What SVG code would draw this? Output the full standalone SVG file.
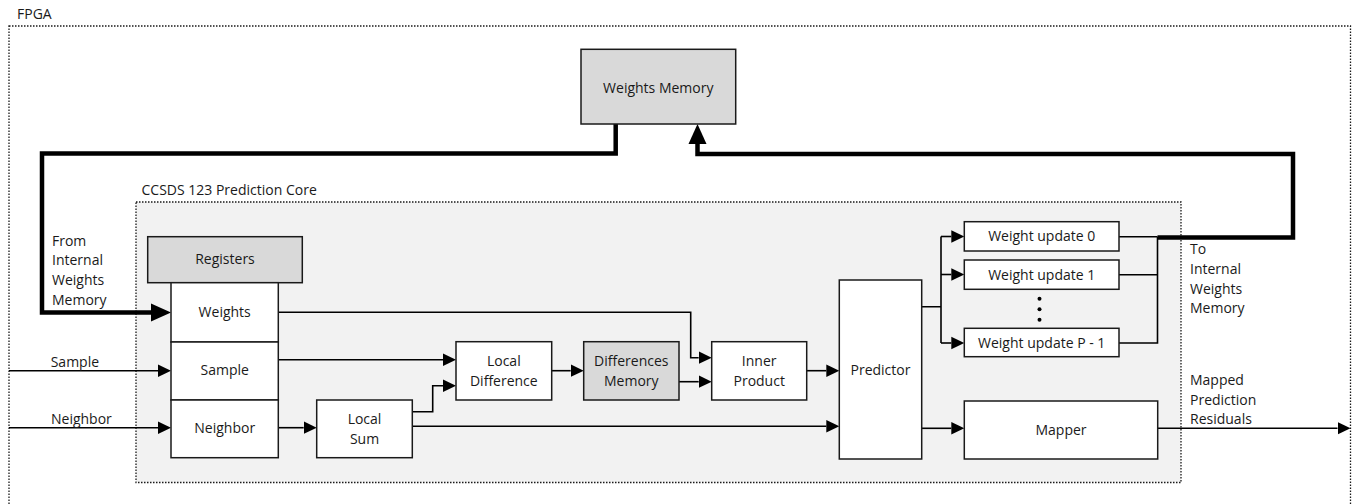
<svg xmlns="http://www.w3.org/2000/svg" width="1353" height="504" viewBox="0 0 1353 504">
  <style>
    text { font-family: "Open Sans", "Liberation Sans", sans-serif; font-size: 14px; fill: #1a1a1a; }
    .c { text-anchor: middle; }
    .frame { fill: none; stroke: #1a1a1a; stroke-width: 1.3; stroke-dasharray: 1.5 1.5; }
    .core { fill: #f2f2f2; stroke: #1a1a1a; stroke-width: 1.3; stroke-dasharray: 1.5 1.5; }
    .box { fill: #ffffff; stroke: #1a1a1a; stroke-width: 1.5; }
    .mem { fill: #d9d9d9; stroke: #1a1a1a; stroke-width: 1.5; }
    .wire { fill: none; stroke: #000; stroke-width: 1.6; }
    .arrow { fill: none; stroke: #000; stroke-width: 1.6; marker-end: url(#head); }
    .bus { fill: none; stroke: #000; stroke-width: 4.5; stroke-linejoin: miter; }
    .busarrow { fill: none; stroke: #000; stroke-width: 4.5; stroke-linejoin: miter; marker-end: url(#bighead); }
  </style>
  <defs>
    <!-- path ends at the base of the head; the head extends past it -->
    <marker id="head" markerUnits="userSpaceOnUse" markerWidth="14" markerHeight="14" refX="0" refY="7" orient="auto">
      <path d="M0,0.7 L13,7 L0,13.3 Z" fill="#000"/>
    </marker>
    <marker id="bighead" markerUnits="userSpaceOnUse" markerWidth="21" markerHeight="19" refX="0" refY="9.5" orient="auto">
      <path d="M0,0.5 L20,9.5 L0,18.5 Z" fill="#000"/>
    </marker>
  </defs>

  <!-- FPGA boundary -->
  <g id="fpga">
    <rect class="frame" x="9" y="26" width="1341.5" height="495"/>
    <text x="17" y="19">FPGA</text>
  </g>

  <!-- Prediction core boundary -->
  <g id="core">
    <rect class="core" x="136" y="202" width="1045" height="280.5"/>
    <text x="141.5" y="195">CCSDS 123 Prediction Core</text>
  </g>

  <!-- connectors -->
  <g id="connectors">
    <!-- weights memory read bus into the register file -->
    <path class="busarrow" d="M615.7,124 V153.5 H42 V312.5 H151"/>
    <!-- weight updates written back to weights memory -->
    <path class="busarrow" d="M1157.5,237.5 H1293 V154 H697.5 V144"/>

    <!-- external inputs -->
    <path class="arrow" d="M9,370.7 H158"/>
    <path class="arrow" d="M9,427.7 H158"/>

    <!-- register outputs -->
    <path class="arrow" d="M278.3,312.3 H690.7 V357.7 H698.7"/>
    <path class="arrow" d="M278.3,359.8 H443"/>
    <path class="arrow" d="M278.3,427.7 H303.7"/>

    <!-- local sum outputs -->
    <path class="arrow" d="M412.3,411.7 H432.7 V385.7 H443"/>
    <path class="arrow" d="M412.3,426.2 H826.3"/>

    <!-- difference path -->
    <path class="arrow" d="M551.7,370.7 H570.7"/>
    <path class="arrow" d="M679,381.7 H698.7"/>
    <path class="arrow" d="M806.7,370.7 H826.3"/>

    <!-- predictor to weight updates -->
    <path class="wire" d="M921.7,306.7 H941 M941,236.5 V343"/>
    <path class="arrow" d="M941,236.5 H951.3"/>
    <path class="arrow" d="M941,274.5 H951.3"/>
    <path class="arrow" d="M941,343 H951.3"/>

    <!-- weight update outputs joined onto the write-back bus -->
    <path class="wire" d="M1119,236.7 H1157.5 M1119,274.7 H1157.5 M1119,343 H1157.5 V236.7"/>

    <!-- predictor to mapper and mapped residuals out -->
    <path class="arrow" d="M921.7,428.3 H951.3"/>
    <path class="arrow" d="M1157.7,428.3 H1337.5"/>
  </g>

  <!-- side labels -->
  <g id="labels">
    <text x="52" y="245.7">From</text>
    <text x="52" y="265.3">Internal</text>
    <text x="52" y="284.9">Weights</text>
    <text x="52" y="304.5">Memory</text>
    <text x="50.7" y="366.5">Sample</text>
    <text x="51" y="424">Neighbor</text>
    <text x="1190" y="254.3">To</text>
    <text x="1190" y="274">Internal</text>
    <text x="1190" y="293.7">Weights</text>
    <text x="1190" y="313.4">Memory</text>
    <text x="1190" y="385">Mapped</text>
    <text x="1190" y="404.5">Prediction</text>
    <text x="1190" y="424">Residuals</text>
  </g>

  <g id="weights-memory">
    <rect class="mem" x="581" y="49.3" width="154.7" height="74.7"/>
    <text class="c" x="658.3" y="92.7">Weights Memory</text>
  </g>

  <g id="registers">
    <rect class="mem" x="147.7" y="236.7" width="154.6" height="46"/>
    <text class="c" x="225" y="264">Registers</text>
  </g>
  <g id="reg-weights">
    <rect class="box" x="171" y="282.7" width="107.3" height="59.3"/>
    <text class="c" x="224.7" y="317">Weights</text>
  </g>
  <g id="reg-sample">
    <rect class="box" x="171" y="342" width="107.3" height="58"/>
    <text class="c" x="224.7" y="375.3">Sample</text>
  </g>
  <g id="reg-neighbor">
    <rect class="box" x="171" y="400" width="107.3" height="57.7"/>
    <text class="c" x="224.7" y="432.7">Neighbor</text>
  </g>

  <g id="local-sum">
    <rect class="box" x="316.7" y="400" width="95.6" height="57.7"/>
    <text class="c" x="364.5" y="424">Local</text>
    <text class="c" x="364.5" y="443.5">Sum</text>
  </g>

  <g id="local-difference">
    <rect class="box" x="456" y="341.7" width="95.7" height="58.3"/>
    <text class="c" x="503.8" y="365.7">Local</text>
    <text class="c" x="503.8" y="385.5">Difference</text>
  </g>

  <g id="differences-memory">
    <rect class="mem" x="583.7" y="341.7" width="95.3" height="58.3"/>
    <text class="c" x="631.3" y="365.7">Differences</text>
    <text class="c" x="631.3" y="385.5">Memory</text>
  </g>

  <g id="inner-product">
    <rect class="box" x="711.7" y="341.7" width="95" height="58.3"/>
    <text class="c" x="759.2" y="365.7">Inner</text>
    <text class="c" x="759.2" y="385.5">Product</text>
  </g>

  <g id="predictor">
    <rect class="box" x="839.3" y="280" width="82.4" height="179"/>
    <text class="c" x="880.5" y="374.5">Predictor</text>
  </g>

  <g id="weight-update-0">
    <rect class="box" x="964.3" y="221.7" width="154.7" height="29.3"/>
    <text class="c" x="1041.7" y="241.3">Weight update 0</text>
  </g>
  <g id="weight-update-1">
    <rect class="box" x="964.3" y="260" width="154.7" height="29.3"/>
    <text class="c" x="1041.7" y="279.6">Weight update 1</text>
  </g>
  <g id="ellipsis">
    <circle cx="1039.5" cy="298.8" r="2" fill="#000"/>
    <circle cx="1039.5" cy="309.3" r="2" fill="#000"/>
    <circle cx="1039.5" cy="319.8" r="2" fill="#000"/>
  </g>
  <g id="weight-update-p-1">
    <rect class="box" x="964.3" y="328.3" width="154.7" height="28.4"/>
    <text class="c" x="1041.7" y="347.5">Weight update P - 1</text>
  </g>

  <g id="mapper">
    <rect class="box" x="964.3" y="401" width="193.4" height="58"/>
    <text class="c" x="1061" y="434.5">Mapper</text>
  </g>
</svg>
